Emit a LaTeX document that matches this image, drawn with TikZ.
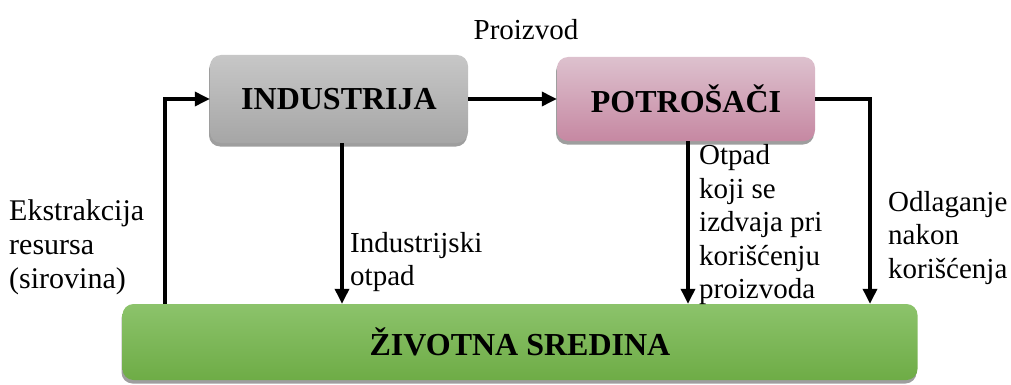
\documentclass[tikz,border=0pt]{standalone}
\usepackage{fontspec}
\setmainfont{Liberation Serif}
\usetikzlibrary{arrows.meta,shadows}
\tikzset{
  box/.style={rounded corners=11pt, draw=none, font=\fontsize{32}{36}\selectfont\bfseries,
    drop shadow={shadow xshift=-1pt, shadow yshift=-3.5pt, fill=black!38, opacity=1}},
  flow/.style={line width=3.4pt, -{Triangle[length=15pt,width=14pt]}},
  lbl/.style={font=\fontsize{29}{33.5}\selectfont, align=left, inner sep=0pt},
}
\begin{document}
\begin{tikzpicture}[x=1pt,y=-1pt]
\useasboundingbox (0,0) rectangle (1011,385);
\node[box, minimum width=258pt, minimum height=88pt, top color=black!22, bottom color=black!35] (ind) at (339,99) {INDUSTRIJA};
\node[box, minimum width=258pt, minimum height=84pt, top color={rgb,255:red,221;green,193;blue,206}, bottom color={rgb,255:red,198;green,136;blue,162}] (pot) at (686,99) {POTROŠAČI};
\node[box, minimum width=795pt, minimum height=76pt, top color={rgb,255:red,140;green,195;blue,107}, bottom color={rgb,255:red,110;green,172;blue,70}] (env) at (520,342) {ŽIVOTNA SREDINA};

\coordinate (xl) at (165,0);
\coordinate (xi) at (342,0);
\coordinate (xp) at (688,0);
\coordinate (xr) at (870,0);

\draw[flow] (env.north -| xl) |- (ind.west);
\draw[flow] (ind.east) -- (pot.west);
\draw[flow] (pot.east) -| (env.north -| xr);
\draw[flow] (ind.south -| xi) -- (env.north -| xi);
\draw[flow] (pot.south -| xp) -- (env.north -| xp);

\node[lbl] (tprod) at (526,30) {Proizvod};
\node[lbl, anchor=west, font=\fontsize{30}{34}\selectfont] (text) at (9,247) {Ekstrakcija\\resursa\\(sirovina)};
\node[lbl, anchor=west] (tind) at (350,262) {Industrijski\\otpad};
\node[lbl, anchor=west] (tpot) at (699,225) {Otpad\\koji se\\izdvaja pri\\korišćenju\\proizvoda};
\node[lbl, anchor=west] (todl) at (888,238) {Odlaganje\\nakon\\korišćenja};
\end{tikzpicture}
\end{document}
